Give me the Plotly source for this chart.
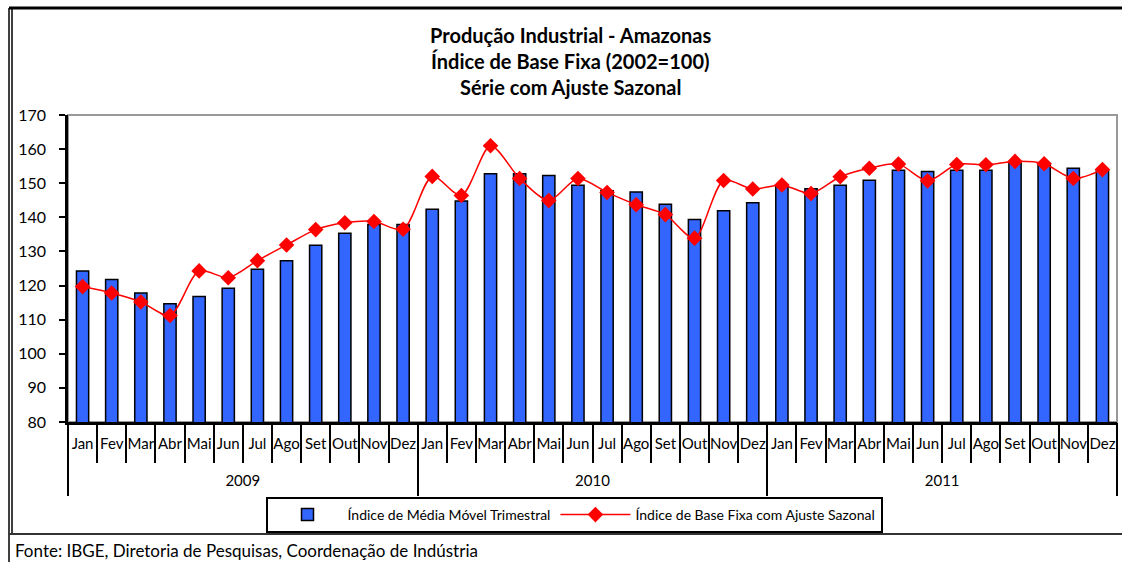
import plotly.graph_objects as go

months = ["Jan", "Fev", "Mar", "Abr", "Mai", "Jun", "Jul", "Ago", "Set", "Out", "Nov", "Dez"]
years = ["2009", "2010", "2011"]

media_movel = [
    124.3, 121.8, 117.8, 114.7, 116.8, 119.2, 124.8, 127.3, 131.8, 135.3, 137.9, 137.9,
    142.4, 144.8, 152.8, 152.8, 152.3, 149.4, 147.8, 147.4, 143.8, 139.4, 141.9, 144.3,
    149.1, 148.4, 149.4, 150.9, 153.8, 153.4, 153.8, 153.8, 156.0, 155.8, 154.4, 153.7,
]
base_fixa = [
    119.7, 117.8, 115.2, 111.2, 124.3, 122.3, 127.3, 131.9, 136.4, 138.4, 138.8, 136.5,
    152.0, 146.4, 161.0, 151.4, 144.9, 151.4, 147.3, 143.7, 140.8, 133.9, 150.8, 148.3,
    149.5, 147.0, 151.9, 154.4, 155.6, 150.7, 155.5, 155.4, 156.4, 155.7, 151.4, 154.0,
]

n = len(media_movel)
xpos = list(range(n))
month_labels = [m for _ in years for m in months]
month_bounds = [i - 0.5 for i in range(n + 1)]
year_centers = [i * 12 + 5.5 for i in range(len(years))]
year_bounds = [i * 12 - 0.5 for i in range(len(years) + 1)]

FONT = "Lato"
W, H = 1122, 562
L, R, T, B = 68, 5, 115, 140
pw, ph = W - L - R, H - T - B


def px(x):
    return (x - L) / pw


def py(y):
    return (H - B - y) / ph


fig = go.Figure()
fig.add_trace(go.Bar(
    x=xpos, y=media_movel, name="Índice de Média Móvel Trimestral",
    marker=dict(color="#3366FF", line=dict(color="black", width=1.5)),
    xaxis="x", yaxis="y",
))
fig.add_trace(go.Scatter(
    x=xpos, y=base_fixa, name="Índice de Base Fixa com Ajuste Sazonal",
    mode="lines+markers",
    line=dict(color="#FF0000", width=1.5, shape="spline", smoothing=0.8),
    marker=dict(symbol="diamond", size=12, color="#FF0000"),
    xaxis="x2", yaxis="y",
))

common_x = dict(range=[-0.5, n - 0.5], showgrid=False, zeroline=False, fixedrange=True)

fig.update_layout(
    width=W, height=H,
    margin=dict(l=L, r=R, t=T, b=B, autoexpand=False),
    paper_bgcolor="white", plot_bgcolor="white",
    font=dict(family=FONT, size=15, color="black"),
    bargap=0.58,
    showlegend=True,
    legend=dict(
        orientation="h", x=px(574), xanchor="center", y=py(497), yanchor="top",
        bordercolor="black", borderwidth=2, font=dict(size=14, family=FONT),
        itemwidth=70, tracegroupgap=0, bgcolor="white",
    ),
    xaxis=dict(
        **common_x, tickmode="array", tickvals=xpos, ticktext=month_labels,
        ticks="outside", ticklen=6, tickcolor="rgba(0,0,0,0)",
        tickfont=dict(size=15, family=FONT),
        minor=dict(tickmode="array", tickvals=month_bounds, ticks="outside", ticklen=38,
                   tickwidth=1.5, tickcolor="black", showgrid=False),
        showline=True, linecolor="black", linewidth=2.5,
    ),
    xaxis2=dict(
        **common_x, overlaying="x", anchor="y", side="bottom",
        tickmode="array", tickvals=year_centers, ticktext=years,
        ticks="outside", ticklen=45, tickcolor="rgba(0,0,0,0)",
        tickfont=dict(size=15, family=FONT),
        minor=dict(tickmode="array", tickvals=year_bounds, ticks="outside", ticklen=73,
                   tickwidth=1.5, tickcolor="black", showgrid=False),
        showline=False,
    ),
    yaxis=dict(
        range=[80, 170], dtick=10, tick0=80, showgrid=False, zeroline=False,
        ticks="outside", ticklen=6, tickwidth=1.5, tickcolor="black",
        showline=True, linecolor="black", linewidth=2.5,
        tickfont=dict(size=16, family=FONT), ticklabelstandoff=10, fixedrange=True,
    ),
)

# plot-area frame (gray top/right), chart frame and footer cell
fig.add_shape(type="rect", xref="paper", yref="paper", x0=0, x1=1, y0=0, y1=1,
              line=dict(color="#999999", width=2), layer="below")
fig.add_shape(type="line", xref="paper", yref="paper", x0=px(9), x1=px(1125), y0=py(8), y1=py(8),
              line=dict(color="black", width=3))
fig.add_shape(type="line", xref="paper", yref="paper", x0=px(9), x1=px(9), y0=py(8), y1=py(565),
              line=dict(color="black", width=1.5))
fig.add_shape(type="line", xref="paper", yref="paper", x0=px(12), x1=px(12), y0=py(8), y1=py(534),
              line=dict(color="black", width=1.5))
fig.add_shape(type="line", xref="paper", yref="paper", x0=px(9), x1=px(1125), y0=py(534), y1=py(534),
              line=dict(color="#333333", width=2))

titles = ["Produção Industrial - Amazonas", "Índice de Base Fixa (2002=100)", "Série com Ajuste Sazonal"]
for i, t in enumerate(titles):
    fig.add_annotation(text=f"<b>{t}</b>", xref="paper", yref="paper", x=px(570), y=py(35 + 26 * i),
                       xanchor="center", yanchor="middle", showarrow=False,
                       font=dict(size=20, family=FONT, color="black"))

fig.add_annotation(text="Fonte: IBGE, Diretoria de Pesquisas, Coordenação de Indústria",
                   xref="paper", yref="paper", x=px(13), y=py(550), xanchor="left", yanchor="middle",
                   showarrow=False, font=dict(size=17, family=FONT, color="black"))

fig.write_html("out.html", config={"displayModeBar": False},
               post_script="document.body.style.margin='0';")
